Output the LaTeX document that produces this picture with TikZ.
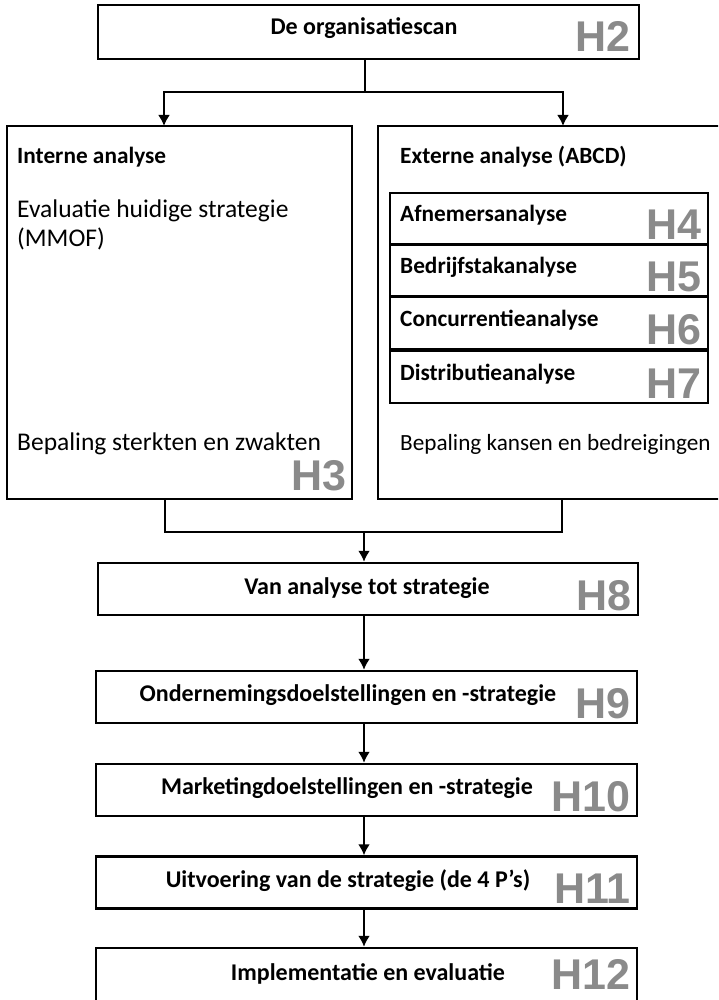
\documentclass[tikz,border=0pt]{standalone}
\usepackage{fontspec}
\setmainfont{Carlito}
\newfontfamily\hfont{Liberation Sans}
\usetikzlibrary{arrows.meta,positioning}
\definecolor{hgray}{RGB}{138,138,138}
\tikzset{
  box/.style={draw, line width=2.4pt, inner sep=0pt},
  hnum/.style={font=\hfont\bfseries\fontsize{43}{43}\selectfont, text=hgray, inner sep=0pt, anchor=base east},
  title/.style={font=\bfseries\fontsize{24}{28}\selectfont, inner sep=0pt},
  plain/.style={font=\fontsize{25.5}{30}\selectfont, inner sep=0pt, anchor=base west},
  head/.style={plain, font=\bfseries\fontsize{23.3}{28}\selectfont},
  link/.style={line width=2.4pt},
  arr/.style={line width=2.4pt, -{Latex[length=11pt,width=12pt]}},
}
\begin{document}
\begin{tikzpicture}[x=1pt,y=-1pt]
  \clip (0,0) rectangle (718,1000);
  \useasboundingbox (0,0) rectangle (718,1000);
  % top
  \node[box, minimum width=541pt, minimum height=54pt] (scan) at (368.5,32) {};
  \node[title] (scant) at (364,28) {De organisatiescan};
  \node[hnum] (h2) at (631,52) {H2};
  % analyse
  \node[box, minimum width=345pt, minimum height=373pt] (intern) at (179.5,312.5) {};
  \node[box, minimum width=360pt, minimum height=373pt] (extern) at (558,312.5) {};
  \node[head] (interntt) at (17,164) {Interne analyse};
  \node[plain] (eval) at (17,218) {Evaluatie huidige strategie};
  \node[plain] (mmof) at (17,247) {(MMOF)};
  \node[plain] (sterk) at (17,450) {Bepaling sterkten en zwakten};
  \node[hnum] (h3) at (347,490) {H3};
  \node[head] (externtt) at (400,164) {Externe analyse (ABCD)};
  \node[plain, font=\fontsize{23.2}{28}\selectfont] (kans) at (400,450) {Bepaling kansen en bedreigingen};
  \foreach \t/\n/\y in {Afnemersanalyse/4/193, Bedrijfstakanalyse/5/244,
      Concurrentieanalyse/6/297, Distributieanalyse/7/351}{
    \draw[box] (390,\y) rectangle (708,\y+52);
    \node[head] (abcd\n) at (400,\y+29) {\t};
    \node[hnum] (h\n) at (702,\y+47) {H\n};
  }
  % chain
  \node[box, minimum width=540pt, minimum height=52pt] (strat) at (368,589) {};
  \node[title] (stratt) at (367,588) {Van analyse tot strategie};
  \node[hnum] (h8) at (632,610) {H8};
  \node[box, minimum width=541pt, minimum height=52pt] (onder) at (366.5,697) {};
  \node[title] (ondert) at (348,695) {Ondernemingsdoelstellingen en -strategie};
  \node[hnum] (h9) at (631,718) {H9};
  \node[box, minimum width=541pt, minimum height=52pt] (mark) at (366.5,790) {};
  \node[title] (markt) at (347,788) {Marketingdoelstellingen en -strategie};
  \node[hnum] (h10) at (631,811) {H10};
  \node[box, minimum width=541pt, minimum height=52pt] (uitv) at (366.5,882.5) {};
  \node[title] (uitvt) at (348,881) {Uitvoering van de strategie (de 4 P’s)};
  \node[hnum] (h11) at (631,903) {H11};
  \node[box, minimum width=541pt, minimum height=56pt] (impl) at (366.5,976) {};
  \node[title] (implt) at (368,974) {Implementatie en evaluatie};
  \node[hnum] (h12) at (631,989) {H12};
  % connectors
  \coordinate (split) at (365,92);
  \coordinate (inL) at (164,126);
  \coordinate (inR) at (563,126);
  \draw[link] (scan.south -| split) -- (split);
  \draw[arr] (split) -| (inL);
  \draw[arr] (split) -| (inR);
  \coordinate (outL) at (165,499);
  \coordinate (outR) at (562,499);
  \coordinate (merge) at (364,532);
  \draw[link] (outL) |- (merge);
  \draw[link] (outR) |- (merge);
  \draw[arr] (merge) -- (merge |- strat.north);
  \draw[arr] (strat.south -| merge) -- (onder.north -| merge);
  \draw[arr] (onder.south -| merge) -- (mark.north -| merge);
  \draw[arr] (mark.south -| merge) -- (uitv.north -| merge);
  \draw[arr] (uitv.south -| merge) -- (impl.north -| merge);
\end{tikzpicture}
\end{document}
